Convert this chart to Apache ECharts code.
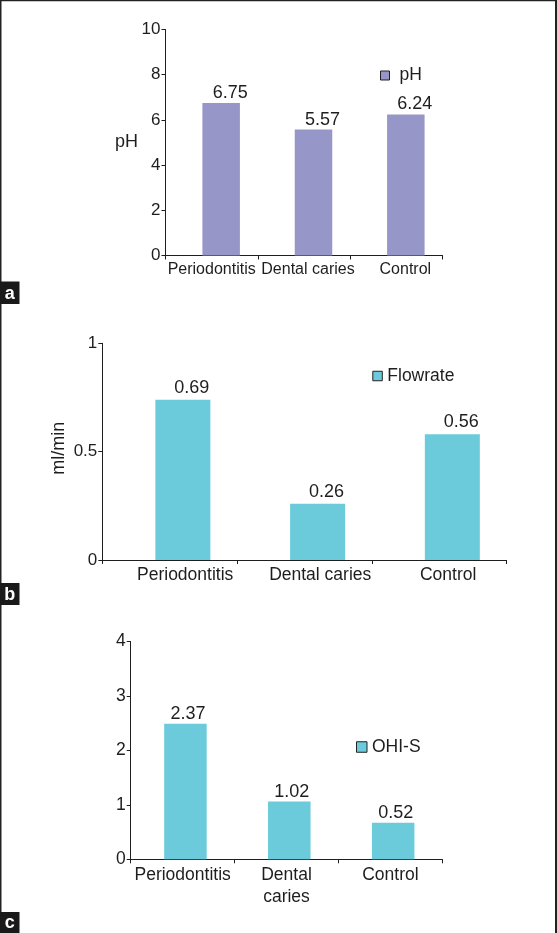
<!DOCTYPE html>
<html><head><meta charset="utf-8">
<script src="https://cdn.jsdelivr.net/npm/echarts@6/dist/echarts.min.js"></script>
<style>html,body{margin:0;padding:0;background:#fff}#c{width:557px;height:933px}</style>
</head><body><div id="c"></div>
<script>
// ---- data ----
const categories = ['Periodontitis', 'Dental caries', 'Control'];
const phValues = [6.75, 5.57, 6.24];
const phLabels = ['6.75', '5.57', '6.24'];
const flowValues = [0.74, 0.26, 0.58];
const flowLabels = ['0.69', '0.26', '0.56'];
const ohisValues = [2.49, 1.06, 0.67];
const ohisLabels = ['2.37', '1.02', '0.52'];
const phAxis = [0, 10, 2];      // min, max, step
const flowAxis = [0, 1, 0.5];
const ohisAxis = [0, 4, 1];
const panelLetters = ['a', 'b', 'c'];

// ---- styling / layout ----
const FONT = '"Liberation Sans", Arial, Helvetica, sans-serif';
const INK = '#1e1e1e';
const PURPLE = '#9696C8';
const TEAL = '#6BCBDB';

const panels = [
  { left: 165.5, top: 29.5, width: 277, height: 226,
    values: phValues, labels: phLabels, axis: phAxis, series: 'pH', color: PURPLE,
    barWidth: 37.5, shift: 9.5, catFont: 16, catMargin: 3, catShift: [0, 4, 9], wrap: false,
    valOffset: 9, valDist: 1, tickFont: 17, tickMargin: 5,
    yName: 'pH', nameRotate: 0, nameGap: 27.5, namePad: [0, 0, 0, 0],
    legLeft: 380, legTop: 66.5, legIcon: 9, legPad: [0, 0, 0, 5] },
  { left: 102.3, top: 343.3, width: 404.2, height: 216.7,
    values: flowValues, labels: flowLabels, axis: flowAxis, series: 'Flowrate', color: TEAL,
    barWidth: 55, shift: 13.2, catFont: 17.5, catMargin: 5, catShift: [15.5, 15.8, 9], wrap: false,
    valOffset: 9, valDist: 3, tickFont: 17, tickMargin: 5,
    yName: 'ml/min', nameRotate: 90, nameGap: 34, namePad: [0, 0, 0, 7],
    legLeft: 372.3, legTop: 367, legIcon: 9.5, legPad: [0, 0, 0, 0] },
  { left: 130.7, top: 641.5, width: 311.6, height: 217.8,
    values: ohisValues, labels: ohisLabels, axis: ohisAxis, series: 'OHI-S', color: TEAL,
    barWidth: 42.5, shift: 2.8, catFont: 17.5, catMargin: 5.5, catShift: [0, 0, 0], wrap: true,
    valOffset: 2.5, valDist: 1, tickFont: 17.5, tickMargin: 5,
    yName: '', nameRotate: 90, nameGap: 30, namePad: [0, 0, 0, 0],
    legLeft: 356, legTop: 738, legIcon: 10.5, legPad: [0, 0, 0, 0] }
];
const letterBoxes = [[281.5, 22.5], [583, 22], [912, 21]];

function richFor(p) {
  const r = {};
  p.catShift.forEach((s, i) => {
    r['t' + i] = {
      fontSize: p.catFont, fontFamily: FONT, color: INK, lineHeight: 21.3,
      padding: s >= 0 ? [0, 0, 0, 2 * s] : [0, -2 * s, 0, 0]
    };
  });
  return r;
}

const option = {
  animation: false,
  backgroundColor: '#ffffff',
  textStyle: { fontFamily: FONT, color: INK },
  grid: panels.map(p => ({ left: p.left, top: p.top, width: p.width, height: p.height,
                            containLabel: false, outerBoundsMode: 'none' })),
  xAxis: panels.map((p, i) => ({
    type: 'category', gridIndex: i, data: categories,
    axisLine: { show: true, lineStyle: { color: INK, width: 1 } },
    axisTick: { show: true, length: 4, lineStyle: { color: INK, width: 1 } },
    splitLine: { show: false },
    axisLabel: {
      interval: 0, margin: p.catMargin, hideOverlap: false,
      fontSize: p.catFont, fontFamily: FONT, color: INK,
      formatter: (v, idx) => '{t' + idx + '|' + (p.wrap ? v.replace(' ', '\n') : v) + '}',
      rich: richFor(p)
    }
  })),
  yAxis: panels.map((p, i) => ({
    type: 'value', gridIndex: i, min: p.axis[0], max: p.axis[1], interval: p.axis[2],
    axisLine: { show: true, lineStyle: { color: INK, width: 1 } },
    axisTick: { show: true, length: 4, lineStyle: { color: INK, width: 1 } },
    splitLine: { show: false },
    axisLabel: { margin: p.tickMargin, fontSize: p.tickFont, fontFamily: FONT, color: INK },
    name: p.yName, nameLocation: 'middle', nameGap: p.nameGap, nameRotate: p.nameRotate,
    nameMoveOverlap: false,
    nameTextStyle: { fontSize: 18, fontFamily: FONT, color: INK, padding: p.namePad }
  })),
  legend: panels.map(p => ({
    data: [p.series], left: p.legLeft, top: p.legTop, padding: 0, orient: 'vertical',
    icon: 'rect', itemWidth: p.legIcon, itemHeight: p.legIcon, selectedMode: false,
    itemStyle: { borderColor: '#222', borderWidth: 1 },
    textStyle: { fontSize: 17.5, fontFamily: FONT, color: INK, padding: p.legPad }
  })),
  series: panels.flatMap((p, i) => [
    { type: 'bar', name: '_spacer' + i, xAxisIndex: i, yAxisIndex: i, silent: true,
      data: categories.map(() => '-'), barWidth: 2 * p.shift, barGap: '0%' },
    { type: 'bar', name: p.series, xAxisIndex: i, yAxisIndex: i,
      data: p.values, barWidth: p.barWidth, barGap: '0%',
      itemStyle: { color: p.color },
      label: { show: true, position: 'top', distance: p.valDist, offset: [p.valOffset, 0],
               fontSize: 18, fontFamily: FONT, color: INK,
               formatter: d => p.labels[d.dataIndex] } }
  ]),
  graphic: [
    { type: 'rect', shape: { x: 0, y: 0, width: 557, height: 1.2 }, style: { fill: '#222' }, silent: true },
    { type: 'rect', shape: { x: 0, y: 0, width: 1.5, height: 933 }, style: { fill: '#222' }, silent: true },
    { type: 'rect', shape: { x: 555, y: 0, width: 2, height: 933 }, style: { fill: '#222' }, silent: true }
  ].concat(letterBoxes.flatMap((b, i) => [
    { type: 'rect', shape: { x: 0, y: b[0], width: 19.5, height: b[1] }, style: { fill: '#1a1a1a' }, silent: true },
    { type: 'text', x: 9.75, y: b[0] + b[1] / 2 + 1, silent: true,
      style: { text: panelLetters[i], fill: '#fff', font: 'bold 18px ' + FONT, align: 'center', verticalAlign: 'middle' } }
  ]))
};

const chart = echarts.init(document.getElementById('c'), null, { renderer: 'canvas' });
chart.setOption(option);
</script>
</body></html>
